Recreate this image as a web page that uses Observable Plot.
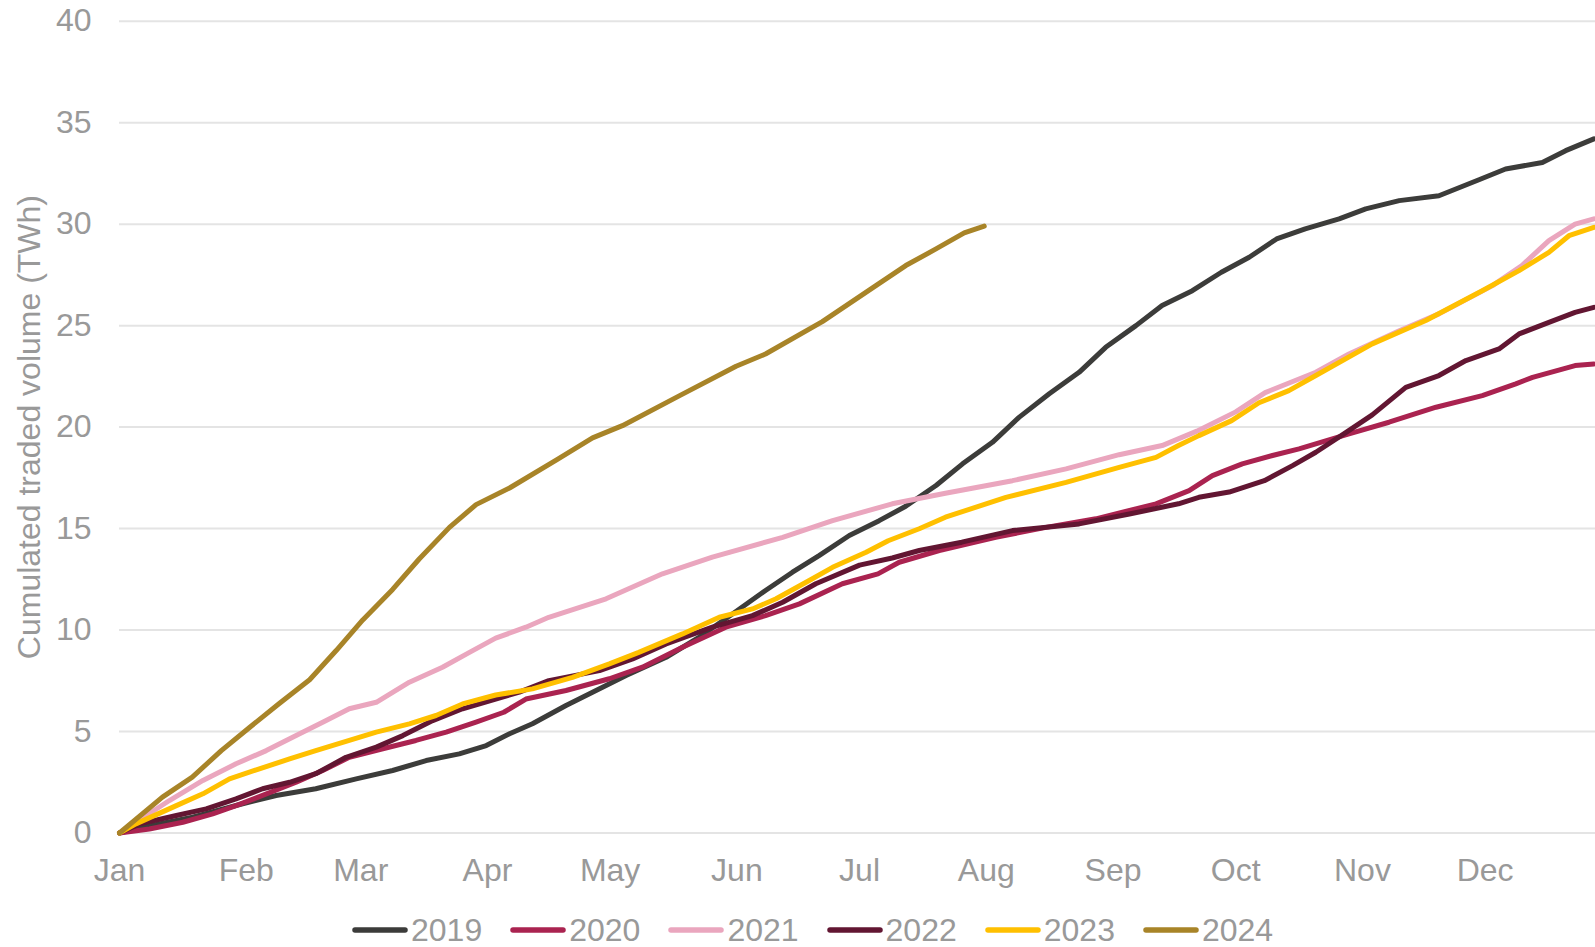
<!DOCTYPE html>
<html>
<head>
<meta charset="utf-8">
<script src="https://cdn.jsdelivr.net/npm/d3@7"></script>
<script src="https://cdn.jsdelivr.net/npm/@observablehq/plot@0.6"></script>
<style>
  html, body { margin: 0; padding: 0; background: #fff; }
  body { width: 1595px; height: 947px; overflow: hidden; font-family: "Liberation Sans", Arial, sans-serif; }
  #legend { position: relative; height: 60px; display: flex; align-items: center; padding-left: 352px; gap: 28px; color: #999; font-size: 32px; }
  .item { display: flex; align-items: center; }
  .item svg { display: block; margin-right: 3px; }
</style>
</head>
<body>
<div id="chart"></div>
<div id="legend"></div>
<script>
// Day of year (0 = 1 Jan) and cumulated traded volume (TWh)
const years = ["2019", "2020", "2021", "2022", "2023", "2024"];
const colors = ["#3c3c3a", "#aa2350", "#eaa6be", "#621632", "#ffc000", "#a88428"];
const monthStarts = [0, 31, 59, 90, 120, 151, 181, 212, 243, 273, 304, 334];
const monthLabels = ["Jan", "Feb", "Mar", "Apr", "May", "Jun", "Jul", "Aug", "Sep", "Oct", "Nov", "Dec"];
const yTicks = [0, 5, 10, 15, 20, 25, 30, 35, 40];
const yLabel = "Cumulated traded volume (TWh)";

const s2019 = [[0,0],[5.7,0.29],[17.9,0.78],[30.1,1.44],[38.3,1.85],[48,2.18],[57.9,2.67],[66.8,3.08],[75,3.57],[83.1,3.9],[89.7,4.31],[95.4,4.89],[101,5.38],[109.2,6.28],[115.7,6.94],[123.9,7.76],[133.7,8.66],[141.8,9.65],[150,10.8],[158,11.95],[164.6,12.85],[171.1,13.67],[178.5,14.66],[185.8,15.39],[192.3,16.1],[199.7,17.12],[206.2,18.19],[213.5,19.25],[220,20.48],[227.4,21.64],[234.7,22.7],[241.2,23.93],[248.6,25.0],[255,25.99],[262.4,26.72],[269.5,27.63],[276.3,28.37],[283,29.27],[290,29.77],[298.3,30.26],[304.8,30.75],[313,31.16],[322.7,31.4],[332.5,32.19],[339,32.72],[348,33.04],[353.7,33.62],[360.6,34.2]];
const s2020 = [[0,0],[7.3,0.2],[15.5,0.53],[22.8,0.94],[28.5,1.35],[35,1.85],[43.2,2.5],[49.7,3.08],[56.2,3.73],[64.4,4.15],[72.5,4.56],[79.9,4.97],[87.2,5.46],[94,5.95],[99.4,6.6],[109.2,7.02],[119.8,7.6],[127.9,8.17],[137.7,9.15],[148.3,10.14],[158,10.71],[166.3,11.29],[176.8,12.28],[185.5,12.77],[190.7,13.34],[200.5,13.92],[214.3,14.57],[226.6,15.06],[238.8,15.48],[253.5,16.22],[261.6,16.87],[267.3,17.61],[274.6,18.19],[282,18.6],[288.5,18.93],[300.7,19.67],[310.5,20.24],[322,20.98],[333.3,21.55],[341.5,22.13],[345.6,22.45],[356,23.03],[360.6,23.11]];
const s2021 = [[0,0],[12.2,1.6],[20.4,2.59],[28.5,3.41],[35.9,4.06],[43.2,4.8],[49.7,5.46],[56.2,6.12],[62.8,6.44],[70.9,7.43],[79,8.17],[85.6,8.9],[92,9.6],[99.4,10.14],[105,10.63],[119,11.54],[132.8,12.77],[145,13.59],[162.2,14.57],[174.4,15.39],[189,16.22],[202,16.74],[218.4,17.36],[231.5,17.94],[244.5,18.64],[255,19.09],[263.5,19.8],[273,20.75],[280.2,21.7],[292.6,22.7],[300.7,23.6],[313,24.75],[322.7,25.58],[335.8,26.97],[343,27.96],[349.6,29.19],[356,30.0],[360.6,30.26]];
const s2022 = [[0,0],[4.9,0.45],[13.9,0.86],[21.2,1.19],[28.5,1.68],[35,2.18],[41.6,2.5],[48,2.92],[55.4,3.73],[62.8,4.23],[69.3,4.8],[76.6,5.54],[83.9,6.12],[92,6.6],[97.8,6.94],[105,7.51],[117.4,8.0],[125.5,8.58],[133.7,9.32],[145,10.14],[154.8,10.71],[162.2,11.37],[170.3,12.28],[181,13.2],[189,13.55],[195.6,13.92],[206,14.33],[218.4,14.9],[234.7,15.23],[247,15.72],[259,16.22],[264,16.54],[271.4,16.8],[280,17.36],[286.9,18.1],[292.6,18.76],[300,19.74],[306.4,20.6],[314.6,21.96],[322.7,22.54],[329.3,23.28],[337.4,23.85],[342.3,24.59],[349.6,25.16],[356,25.65],[360.6,25.9]];
const s2023 = [[0,0],[4,0.45],[13.9,1.35],[20.4,1.93],[26.9,2.67],[34.2,3.16],[41.6,3.65],[48,4.06],[54.6,4.47],[62.8,4.97],[70.9,5.38],[77.4,5.79],[83.9,6.36],[92,6.8],[101,7.1],[110.8,7.67],[119.8,8.33],[127,8.9],[137.7,9.81],[146.7,10.63],[154.8,11.04],[160.6,11.54],[168.7,12.44],[174.4,13.09],[182.6,13.83],[188,14.4],[195.6,14.99],[202,15.56],[216.8,16.54],[231.5,17.28],[244.5,18.02],[253.5,18.51],[259,19.09],[264,19.58],[272,20.32],[278.7,21.2],[286,21.8],[292.6,22.54],[306.4,24.1],[319.5,25.25],[333.3,26.72],[342.3,27.71],[349.6,28.61],[354.5,29.43],[360.6,29.84]];
const s2024 = [[0,0],[10.5,1.77],[17.8,2.75],[24.9,4.06],[31.8,5.2],[39,6.37],[46.5,7.55],[53,8.99],[59.5,10.5],[66.8,12.0],[73.3,13.5],[80.7,15.06],[87.2,16.18],[95.4,17.0],[107,18.4],[115.7,19.47],[123,20.07],[137,21.55],[150.8,23.0],[158,23.6],[171.9,25.2],[185,26.97],[192.3,27.96],[199.7,28.78],[206.6,29.57],[211.5,29.9]];

const seriesList = [s2019, s2020, s2021, s2022, s2023, s2024];
const rows = seriesList.flatMap((s, i) => s.map(([day, value]) => ({year: years[i], day, value})));

const lineMarks = years.map(yr => Plot.line(rows.filter(r => r.year === yr), {
  x: "day", y: "value", stroke: "year", strokeWidth: 5, strokeLinejoin: "round", strokeLinecap: "round"
}));

const chart = Plot.plot({
  width: 1595,
  height: 900,
  marginLeft: 119,
  marginRight: 0,
  marginTop: 20.7,
  marginBottom: 67.5,
  style: {fontFamily: '"Liberation Sans", Arial, sans-serif', fontSize: "32px", color: "#999", background: "#fff"},
  x: {domain: [0, 361], ticks: monthStarts, tickFormat: d => monthLabels[monthStarts.indexOf(d)], tickSize: 0, tickPadding: 25, label: null},
  y: {domain: [0, 40], ticks: yTicks, tickSize: 0, tickPadding: 28, label: null},
  color: {domain: years, range: colors},
  marks: [
    Plot.ruleY(yTicks, {stroke: "#e4e4e4", strokeWidth: 2}),
    ...lineMarks,
    Plot.text([yLabel], {frameAnchor: "left", dx: -90, rotate: -90, textAnchor: "middle", fill: "#999", fontSize: 32})
  ]
});
document.getElementById("chart").appendChild(chart);

const legend = d3.select("#legend");
years.forEach((yr, i) => {
  const item = legend.append("div").attr("class", "item");
  const sw = item.append("svg").attr("width", 56).attr("height", 12);
  sw.append("line").attr("x1", 3).attr("x2", 53).attr("y1", 6).attr("y2", 6)
    .attr("stroke", colors[i]).attr("stroke-width", 5.5).attr("stroke-linecap", "round");
  item.append("span").text(yr);
});
</script>
</body>
</html>
